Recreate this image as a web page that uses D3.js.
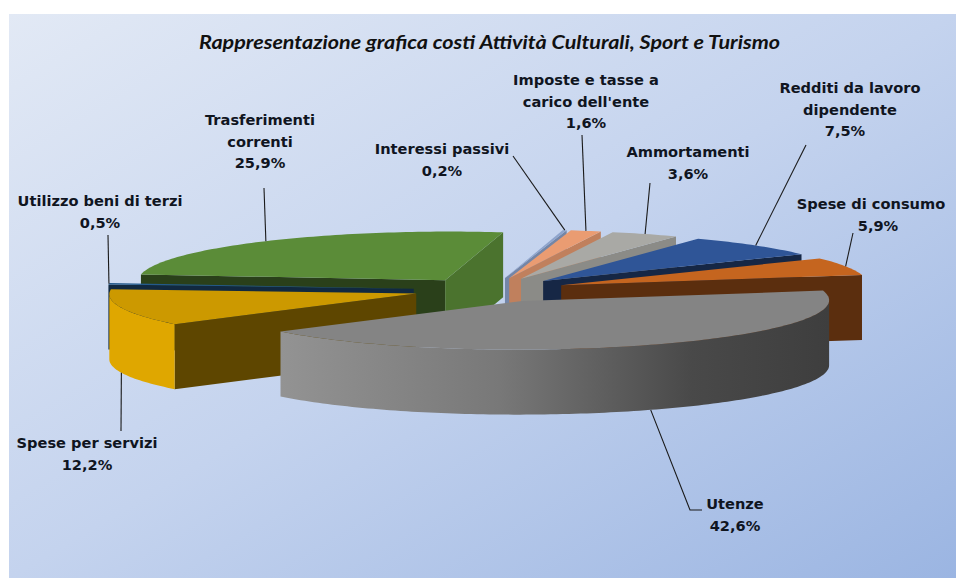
<!DOCTYPE html>
<html>
<head>
<meta charset="utf-8">
<script src="https://d3js.org/d3.v7.min.js"></script>
<style>
html, body { margin: 0; padding: 0; background: #fff; }
svg { display: block; }
</style>
</head>
<body>
<svg id="frame" width="956" height="578"></svg>
<script>
// values as printed on the chart, clockwise from the first slice
var titleText = "Rappresentazione grafica costi Attività Culturali, Sport e Turismo"
var categories = [
  ["Redditi da lavoro", "dipendente"],
  ["Spese di consumo"],
  ["Utenze"],
  ["Spese per servizi"],
  ["Utilizzo beni di terzi"],
  ["Trasferimenti", "correnti"],
  ["Interessi passivi"],
  ["Imposte e tasse a", "carico dell'ente"],
  ["Ammortamenti"]
]
var values = [7.5, 5.9, 42.6, 12.2, 0.5, 25.9, 0.2, 1.6, 3.6]
var topColors = ["#2f5597", "#c5651f", "#848484", "#cc9900", "#245a8c", "#5b8c38", "#8ea4cc", "#ea9c72", "#a9a9a5"]

// label layout, same order as categories: centre x, first baseline y
var labelPos = [[850, 93], [871, 209], [735, 509], [87, 448], [100, 206], [260, 125], [442, 154], [586, 85], [688, 157]]
// percent row sits a little off centre on some labels
var percentShift = [-5, 7, 0, 0, 0, 0, 0, 0, 0]
// where each leader line leaves its label (towards the slice)
var leaderFrom = [
  [[806, 145]],
  [[853, 233]],
  [[702, 510], [690, 510]],
  [[121, 431]],
  [[108, 235]],
  [[264, 188]],
  [[513, 156]],
  [[582, 135]],
  [[650, 183]]
]

var width = 956
var height = 578

// pie plane -> screen, an oblique view of the tilted disc
var cx = 490
var cy = 290
var radiusX = 302
var skew = 55
var radiusY = 48
var tilt = 8
var depth = 65
var explode = 0.25
var firstAngle = 20 * Math.PI / 180

function project(a, r) {
  var c = Math.cos(a)
  var s = Math.sin(a)
  return [
    cx + r * (radiusX * s + skew * c),
    cy + r * (tilt * s - radiusY * c)
  ]
}

var svg = d3.select("#frame")
var defs = svg.append("defs")

var bg = defs.append("linearGradient")
  .attr("id", "bg")
  .attr("x1", "0%").attr("y1", "0%")
  .attr("x2", "100%").attr("y2", "100%")
bg.append("stop").attr("offset", "0%").attr("stop-color", "#e2e9f5")
bg.append("stop").attr("offset", "50%").attr("stop-color", "#c4d3ee")
bg.append("stop").attr("offset", "100%").attr("stop-color", "#9bb5e2")

var rimGrey = defs.append("linearGradient")
  .attr("id", "rimGrey")
  .attr("x1", "0%").attr("y1", "0%")
  .attr("x2", "100%").attr("y2", "0%")
rimGrey.append("stop").attr("offset", "0%").attr("stop-color", "#939393")
rimGrey.append("stop").attr("offset", "40%").attr("stop-color", "#787878")
rimGrey.append("stop").attr("offset", "75%").attr("stop-color", "#494949")
rimGrey.append("stop").attr("offset", "100%").attr("stop-color", "#3e3e3e")

svg.append("rect")
  .attr("x", 9)
  .attr("y", 14)
  .attr("width", width - 9)
  .attr("height", height - 14)
  .attr("fill", "url(#bg)")

// the original is stretched sideways, so force the title width
svg.append("text")
  .attr("x", 489.5)
  .attr("y", 49)
  .attr("text-anchor", "middle")
  .attr("textLength", 581)
  .attr("lengthAdjust", "spacingAndGlyphs")
  .style("font-family", "Lato, sans-serif")
  .style("font-size", "18.5px")
  .style("font-weight", "bold")
  .style("font-style", "italic")
  .style("fill", "#111")
  .text(titleText)

var pie = d3.pie()
  .sort(null)
  .startAngle(firstAngle)
  .endAngle(firstAngle + 2 * Math.PI)

var arcs = pie(values).map(function(d, i) {
  var mid = (d.startAngle + d.endAngle) / 2
  var off = project(mid, explode)
  return {
    index: i,
    start: d.startAngle,
    end: d.endAngle,
    mid: mid,
    dx: off[0] - cx,
    dy: off[1] - cy,
    color: topColors[i]
  }
})

function onSlice(d, a) {
  var p = project(a, 1)
  return [p[0] + d.dx, p[1] + d.dy]
}

function rimPoints(d, from, to) {
  var n = Math.max(2, Math.ceil((to - from) / 0.02))
  return d3.range(n + 1).map(function(k) {
    return onSlice(d, from + (to - from) * k / n)
  })
}

function down(points) {
  return points.map(function(p) { return [p[0], p[1] + depth] })
}

var line = d3.line()

function facePath(points) {
  return line(points) + "Z"
}

// rim only faces the viewer on this stretch of the circle
var rimFrom = Math.atan2(radiusX, skew)
var rimTo = rimFrom + Math.PI

function visibleRim(d) {
  var tests = [0, 2 * Math.PI]
  for (var t = 0; t < tests.length; t++) {
    var lo = Math.max(d.start, rimFrom + tests[t])
    var hi = Math.min(d.end, rimTo + tests[t])
    if (hi > lo) return [lo, hi]
  }
  return null
}

function wallShade(corner, apex) {
  var slope = Math.abs(Math.atan2(corner[1] - apex[1], corner[0] - apex[0]))
  if (slope > Math.PI / 2) slope = Math.PI - slope
  return slope > 0.18 ? 0.82 : 0.46
}

function wallVisible(apex, corner, mid) {
  var a = corner[0] < apex[0] ? corner : apex
  var b = corner[0] < apex[0] ? apex : corner
  var cross = (b[0] - a[0]) * (mid[1] - a[1]) - (b[1] - a[1]) * (mid[0] - a[0])
  return cross < 0
}

function shade(color, k) {
  var c = d3.rgb(color)
  return d3.rgb(c.r * k, c.g * k, c.b * k).formatHex()
}

// far slices first
var drawOrder = arcs.slice().sort(function(a, b) {
  return Math.cos(b.mid) - Math.cos(a.mid)
})

var slices = svg.selectAll("g.slice")
  .data(drawOrder)
  .enter()
  .append("g")
  .attr("class", "slice")

slices.each(function(d) {
  var g = d3.select(this)
  var apex = [cx + d.dx, cy + d.dy]
  var c0 = onSlice(d, d.start)
  var c1 = onSlice(d, d.end)
  var m = onSlice(d, d.mid)

  ;[c0, c1].forEach(function(corner) {
    if (!wallVisible(apex, corner, m)) return
    g.append("path")
      .attr("d", facePath([apex, corner, [corner[0], corner[1] + depth], [apex[0], apex[1] + depth]]))
      .attr("fill", shade(d.color, wallShade(corner, apex)))
  })

  var vis = visibleRim(d)
  if (vis) {
    var top = rimPoints(d, vis[0], vis[1])
    g.append("path")
      .attr("d", facePath(top.concat(down(top).reverse())))
      .attr("fill", d.index == 2 ? "url(#rimGrey)" : d3.rgb(d.color).brighter(0.25).formatHex())
  }

  g.append("path")
    .attr("d", facePath([apex].concat(rimPoints(d, d.start, d.end))))
    .attr("fill", d.color)
})

// leader lines run to the middle of each slice's outer edge
var labelFormat = d3.formatLocale({ decimal: ",", thousands: ".", grouping: [3], currency: ["", "€"] }).format(".1f")

arcs.forEach(function(d) {
  var end = onSlice(d, d.mid)
  var norm = d.mid % (2 * Math.PI)
  if (norm > rimFrom && norm < rimTo) end = [end[0], end[1] + depth]
  svg.append("path")
    .attr("d", line(leaderFrom[d.index].concat([end])))
    .attr("fill", "none")
    .attr("stroke", "#1a1a1a")
    .attr("stroke-width", 1.1)

  var text = svg.append("text")
    .attr("text-anchor", "middle")
    .style("font-family", "'DejaVu Sans', sans-serif")
    .style("font-size", "14.6px")
    .style("font-weight", "bold")
    .style("fill", "#10151f")

  var rows = categories[d.index].concat([labelFormat(values[d.index]) + "%"])
  rows.forEach(function(row, k) {
    text.append("tspan")
      .attr("x", labelPos[d.index][0] + (k == rows.length - 1 ? percentShift[d.index] : 0))
      .attr("y", labelPos[d.index][1] + k * 21.5)
      .text(row)
  })
})
</script>
</body>
</html>
